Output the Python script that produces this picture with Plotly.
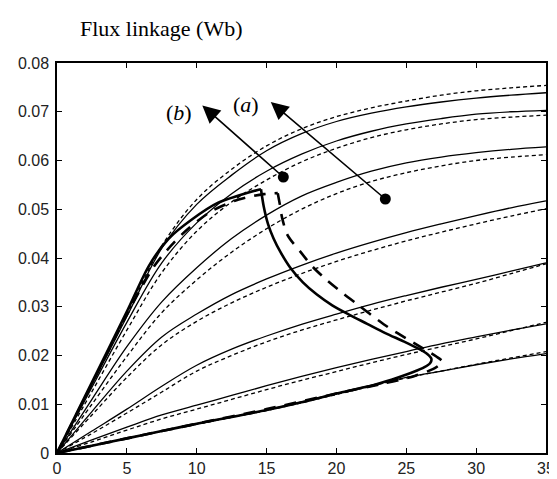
import plotly.graph_objects as go

# ---------------- data ----------------
current = [0, 2.5, 5, 7.5, 10, 12.5, 15, 17.5, 20, 22.5, 25, 27.5, 30, 32.5, 35]

measured = {
    "A": [0, 0.0140, 0.0280, 0.0420, 0.0510, 0.0570, 0.0620, 0.0655, 0.0680, 0.0697, 0.0710, 0.0720, 0.0728, 0.0734, 0.0739],
    "B": [0, 0.0135, 0.0268, 0.0390, 0.0472, 0.0532, 0.0578, 0.0613, 0.0640, 0.0660, 0.0675, 0.0686, 0.0695, 0.0700, 0.0703],
    "C": [0, 0.0110, 0.0218, 0.0310, 0.0380, 0.0440, 0.0488, 0.0527, 0.0555, 0.0578, 0.0595, 0.0607, 0.0616, 0.0623, 0.0628],
    "D": [0, 0.0085, 0.0168, 0.0238, 0.0285, 0.0325, 0.0357, 0.0385, 0.0410, 0.0432, 0.0452, 0.0470, 0.0487, 0.0503, 0.0517],
    "E": [0, 0.0045, 0.0090, 0.0137, 0.0180, 0.0213, 0.0240, 0.0264, 0.0285, 0.0305, 0.0323, 0.0340, 0.0356, 0.0373, 0.0390],
    "F": [0, 0.0027, 0.0053, 0.0078, 0.0098, 0.0118, 0.0138, 0.0157, 0.0175, 0.0192, 0.0208, 0.0224, 0.0238, 0.0252, 0.0265],
    "G": [0, 0.0015, 0.0030, 0.0045, 0.0060, 0.0074, 0.0088, 0.0105, 0.0122, 0.0139, 0.0155, 0.0168, 0.0181, 0.0193, 0.0204],
}
computed = {
    "A": [0, 0.0142, 0.0284, 0.0425, 0.0520, 0.0582, 0.0630, 0.0665, 0.0690, 0.0708, 0.0722, 0.0734, 0.0743, 0.0749, 0.0754],
    "B": [0, 0.0126, 0.0252, 0.0370, 0.0455, 0.0515, 0.0560, 0.0597, 0.0625, 0.0647, 0.0663, 0.0675, 0.0684, 0.0689, 0.0693],
    "C": [0, 0.0100, 0.0198, 0.0288, 0.0355, 0.0412, 0.0460, 0.0500, 0.0532, 0.0557, 0.0575, 0.0589, 0.0600, 0.0607, 0.0612],
    "D": [0, 0.0078, 0.0155, 0.0222, 0.0270, 0.0308, 0.0340, 0.0368, 0.0393, 0.0415, 0.0435, 0.0453, 0.0470, 0.0486, 0.0501],
    "E": [0, 0.0040, 0.0082, 0.0125, 0.0168, 0.0200, 0.0228, 0.0252, 0.0273, 0.0293, 0.0312, 0.0330, 0.0348, 0.0368, 0.0388],
    "F": [0, 0.0023, 0.0047, 0.0070, 0.0090, 0.0110, 0.0130, 0.0149, 0.0167, 0.0185, 0.0202, 0.0218, 0.0234, 0.0251, 0.0268],
    "G": [0, 0.0015, 0.0030, 0.0045, 0.0059, 0.0073, 0.0087, 0.0103, 0.0120, 0.0137, 0.0154, 0.0168, 0.0182, 0.0195, 0.0208],
}

# trajectory (b): measured, thick solid (rise, fall, return)
b_rise_current = [0, 2.5, 5, 6.6, 8.0, 9.7, 11.5, 13.0, 14.3, 14.6]
b_rise_flux = [0, 0.0145, 0.0290, 0.0385, 0.0440, 0.0480, 0.0513, 0.0528, 0.0539, 0.0541]
b_fall_current = [14.6, 14.8, 15.1, 15.5, 16.0, 16.7, 17.6, 18.6, 19.7, 20.9, 22.2, 23.5, 24.8,
                  25.8, 26.5, 26.8, 26.7, 26.3, 25.5, 24.2, 22.5]
b_fall_flux = [0.0541, 0.0505, 0.0470, 0.0440, 0.0412, 0.0380, 0.0350, 0.0325, 0.0303, 0.0284, 0.0265,
               0.0246, 0.0229, 0.0215, 0.0203, 0.0193, 0.0184, 0.0176, 0.0166, 0.0153, 0.0138]
b_back_current = [22.5, 20, 17.5, 15, 12.5, 10, 7.5, 5, 2.5, 0]
b_back_flux = [0.0138, 0.0122, 0.0104, 0.0088, 0.0074, 0.0060, 0.0045, 0.0030, 0.0015, 0]

# trajectory (a): computed, thick dashed (rise, fall, return)
a_rise_current = [0, 2.5, 5, 7, 9, 11, 13, 14.8, 15.8]
a_rise_flux = [0, 0.0142, 0.0284, 0.0385, 0.0450, 0.0495, 0.0520, 0.0531, 0.0533]
a_fall_current = [15.8, 15.95, 16.1, 16.5, 17.5, 18.3, 19.3, 20.5, 21.5, 22.5, 23.7, 25.0, 26.3,
                  27.2, 27.6, 27.3, 26.9, 25.6, 23.0]
a_fall_flux = [0.0533, 0.0510, 0.0484, 0.0447, 0.0410, 0.0382, 0.0355, 0.0327, 0.0305, 0.0283, 0.0258,
               0.0235, 0.0213, 0.0197, 0.0187, 0.0179, 0.0172, 0.0158, 0.0140]
a_back_current = [23.0, 20, 15, 10, 5, 0]
a_back_flux = [0.0140, 0.0122, 0.0090, 0.0060, 0.0030, 0]

# marker dots and arrow tips / labels
dot_current = [16.2, 23.5]
dot_flux = [0.0566, 0.0521]
tip_current = [10.4, 15.3]
tip_flux = [0.0713, 0.0720]
label_text = ["(<i>b</i>)", "(<i>a</i>)"]
label_current = [8.7, 13.5]
label_flux = [0.0699, 0.0714]

x_ticks = [0, 5, 10, 15, 20, 25, 30, 35]
y_ticks = [0, 0.01, 0.02, 0.03, 0.04, 0.05, 0.06, 0.07, 0.08]
y_ticktext = ["0", "0.01", "0.02", "0.03", "0.04", "0.05", "0.06", "0.07", "0.08"]

# ---------------- figure ----------------
fig = go.Figure()

for key, vals in computed.items():
    fig.add_trace(go.Scatter(x=current, y=vals, mode="lines",
                             line=dict(color="black", width=1.3, dash="4px,3px", shape="spline", smoothing=1.0),
                             showlegend=False, hoverinfo="skip"))
for key, vals in measured.items():
    fig.add_trace(go.Scatter(x=current, y=vals, mode="lines",
                             line=dict(color="black", width=1.3, shape="spline", smoothing=1.0),
                             showlegend=False, hoverinfo="skip"))

for xs, ys in [(a_rise_current, a_rise_flux), (a_fall_current, a_fall_flux), (a_back_current, a_back_flux)]:
    fig.add_trace(go.Scatter(x=xs, y=ys, mode="lines",
                             line=dict(color="black", width=2.6, dash="12px,9px", shape="spline", smoothing=0.8),
                             showlegend=False, hoverinfo="skip"))
for xs, ys in [(b_rise_current, b_rise_flux), (b_fall_current, b_fall_flux), (b_back_current, b_back_flux)]:
    fig.add_trace(go.Scatter(x=xs, y=ys, mode="lines",
                             line=dict(color="black", width=2.6, shape="spline", smoothing=0.8),
                             showlegend=False, hoverinfo="skip"))

fig.add_trace(go.Scatter(x=dot_current, y=dot_flux, mode="markers",
                         marker=dict(color="black", size=11),
                         showlegend=False, hoverinfo="skip"))

for i in range(len(dot_current)):
    fig.add_annotation(x=tip_current[i], y=tip_flux[i], ax=dot_current[i], ay=dot_flux[i],
                       xref="x", yref="y", axref="x", ayref="y", text="",
                       showarrow=True, arrowhead=2, arrowsize=2.2, arrowwidth=1.6,
                       arrowcolor="black", standoff=0, startstandoff=0)
    fig.add_annotation(x=label_current[i], y=label_flux[i], xref="x", yref="y",
                       text=label_text[i], showarrow=False,
                       font=dict(family="Liberation Serif", size=22, color="black"))

fig.add_annotation(x=0.042, y=1.088, xref="paper", yref="paper", xanchor="left", yanchor="middle",
                   text="Flux linkage (Wb)", showarrow=False,
                   font=dict(family="Liberation Serif", size=22, color="black"))

axis_common = dict(showgrid=False, zeroline=False, showline=True, linecolor="black", linewidth=1.5,
                   mirror="ticks", ticks="inside", ticklen=5, tickwidth=1, tickcolor="black",
                   tickfont=dict(family="Liberation Sans", size=16, color="#222"))

fig.update_xaxes(range=[0, 35], tickvals=x_ticks, **axis_common)
fig.update_yaxes(range=[0, 0.08], tickvals=y_ticks, ticktext=y_ticktext, ticklabelstandoff=3, **axis_common)

fig.update_layout(width=557, height=479, margin=dict(l=49, r=10, t=55, b=28),
                  plot_bgcolor="white", paper_bgcolor="white")

fig.write_html("out.html")
